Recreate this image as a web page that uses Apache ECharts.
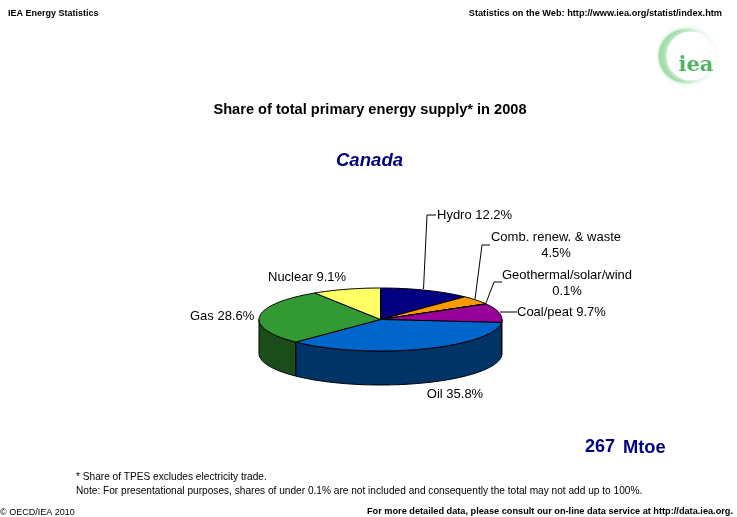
<!DOCTYPE html>
<html>
	<head>
		<meta charset="utf-8">
		<title>Share of total primary energy supply</title>
		<style>
			html, body { margin: 0; padding: 0; background: #fff; }
			#main { width: 737px; height: 517px; }
		</style>
	</head>
	<body>
		<div id="main"></div>
		<script src="https://cdn.jsdelivr.net/npm/echarts@6/dist/echarts.min.js"></script>
		<script>
			var categories = ['Hydro', 'Comb. renew. & waste', 'Geothermal/solar/wind', 'Coal/peat', 'Oil', 'Gas', 'Nuclear'];
			var shares = [12.2, 4.5, 0.1, 9.7, 35.8, 28.6, 9.1];
			var topColors = ['#000080', '#ff9900', '#cc0000', '#990099', '#0066cc', '#339933', '#ffff66'];
			var sideColors = ['#000040', '#804d00', '#660000', '#4d004d', '#003366', '#1a4d1a', '#808033'];
			var totalSupply = '267';
			var totalUnit = 'Mtoe';

			// ellipse of the tilted pie
			var cx = 380.5, cy = 319.5, rx = 121.5, ry = 31.5, depth = 34;
			var total = shares.reduce(function (a, b) { return a + b; }, 0);

			var rows = [];
			var run = 0;
			shares.forEach(function (v) {
				rows.push([run, run + v]);
				run += v;
			});

			function rimPoint(deg, drop) {
				var r = deg * Math.PI / 180;
				return [cx + rx * Math.sin(r), cy - ry * Math.cos(r) + (drop || 0)];
			}

			function arc(a, b, drop) {
				var pts = [];
				var n = Math.max(2, Math.ceil(Math.abs(b - a) / 1.5));
				for (var i = 0; i <= n; i++) {
					pts.push(rimPoint(a + (b - a) * i / n, drop));
				}
				return pts;
			}

			function renderTop(params, api) {
				var a = api.value(0) / total * 360;
				var b = api.value(1) / total * 360;
				return {
					type: 'polygon',
					shape: { points: [[cx, cy]].concat(arc(a, b, 0)) },
					style: { fill: topColors[params.dataIndex], stroke: '#000', lineWidth: 1, lineJoin: 'round' }
				};
			}

			// only the front half of the rim has a visible wall
			function renderSide(params, api) {
				var a = Math.max(api.value(0) / total * 360, 90);
				var b = Math.min(api.value(1) / total * 360, 270);
				if (b <= a) {
					return null;
				}
				return {
					type: 'polygon',
					shape: { points: arc(a, b, 0).concat(arc(b, a, depth)) },
					style: { fill: sideColors[params.dataIndex], stroke: '#000', lineWidth: 1, lineJoin: 'round' }
				};
			}

			function txt(text, x, y, size, opt) {
				opt = opt || {};
				return {
					type: 'text',
					x: x,
					y: y,
					z: 10,
					style: {
						text: text,
						fontFamily: opt.family || '"Liberation Sans", Arial, sans-serif',
						fontSize: size,
						fontWeight: opt.weight || 'normal',
						fontStyle: opt.style || 'normal',
						fill: opt.color || '#000',
						align: opt.align || 'left',
						verticalAlign: 'middle',
						lineHeight: opt.lineHeight
					}
				};
			}

			function leader(points) {
				return {
					type: 'polyline',
					z: 9,
					shape: { points: points },
					style: { stroke: '#000', lineWidth: 1, fill: null }
				};
			}

			function label(i) {
				return categories[i] + ' ' + shares[i].toFixed(1) + '%';
			}

			var graphics = [
				// logo
				{
					type: 'circle', z: 1, shape: { cx: 687, cy: 56, r: 28 },
					style: { fill: '#d4f0d8', shadowBlur: 5, shadowColor: '#d4f0d8' }
				},
				{
					type: 'circle', z: 1, shape: { cx: 685, cy: 56, r: 26.5 },
					style: { fill: '#a0dda9', shadowBlur: 3, shadowColor: '#c4ebc9' }
				},
				{
					type: 'circle', z: 2, shape: { cx: 691, cy: 56, r: 24.5 },
					style: { fill: '#fff', shadowBlur: 5, shadowColor: '#ffffff' }
				},
				txt('iea', 696, 66, 21, { family: '"DejaVu Serif", serif', weight: 'bold', color: '#4fb565', align: 'center' }),

				txt('IEA Energy Statistics', 8, 13.5, 9, { weight: 'bold' }),
				txt('Statistics on the Web: http://www.iea.org/statist/index.htm', 722, 13.5, 9.2, { weight: 'bold', align: 'right' }),
				txt('Share of total primary energy supply* in 2008', 370, 110, 14.6, { weight: 'bold', align: 'center' }),
				txt('Canada', 369.5, 161, 18.6, { weight: 'bold', style: 'italic', color: '#000080', align: 'center' }),

				leader([[423.5, 289], [427, 215], [436, 215]]),
				leader([[475, 299], [482, 245], [490, 245]]),
				leader([[486, 303], [494, 282], [502, 282]]),
				leader([[500, 312], [517, 312]]),

				txt(label(0), 437, 215, 13),
				txt(categories[1], 556, 237, 13, { align: 'center' }),
				txt(shares[1].toFixed(1) + '%', 556, 253, 13, { align: 'center' }),
				txt(categories[2], 567, 275, 13, { align: 'center' }),
				txt(shares[2].toFixed(1) + '%', 567, 291, 13, { align: 'center' }),
				txt(label(3), 517, 312, 13),
				txt(label(4), 455, 394, 13, { align: 'center' }),
				txt(label(5), 190, 316, 13),
				txt(label(6), 268, 277, 13),

				txt(totalSupply, 585, 447, 18, { weight: 'bold', color: '#000080' }),
				txt(totalUnit, 623, 448, 18.3, { weight: 'bold', color: '#000080' }),

				txt('* Share of TPES excludes electricity trade.', 76, 477, 10.15),
				txt('Note: For presentational purposes, shares of under 0.1% are not included and consequently the total may not add up to 100%.', 76, 491, 10.15),
				txt('\u00a9 OECD/IEA 2010', 0, 512.5, 9),
				txt('For more detailed data, please consult our on-line data service at http://data.iea.org.', 733, 511.5, 9.2, { weight: 'bold', align: 'right' })
			];

			var myChart = echarts.init(document.getElementById('main'));
			myChart.setOption({
				backgroundColor: '#fff',
				animation: false,
				graphic: graphics,
				series: [
					{ type: 'custom', coordinateSystem: 'none', silent: true, z: 2, data: rows, renderItem: renderSide },
					{ type: 'custom', coordinateSystem: 'none', silent: true, z: 3, data: rows, renderItem: renderTop }
				]
			});
		</script>
	</body>
</html>
